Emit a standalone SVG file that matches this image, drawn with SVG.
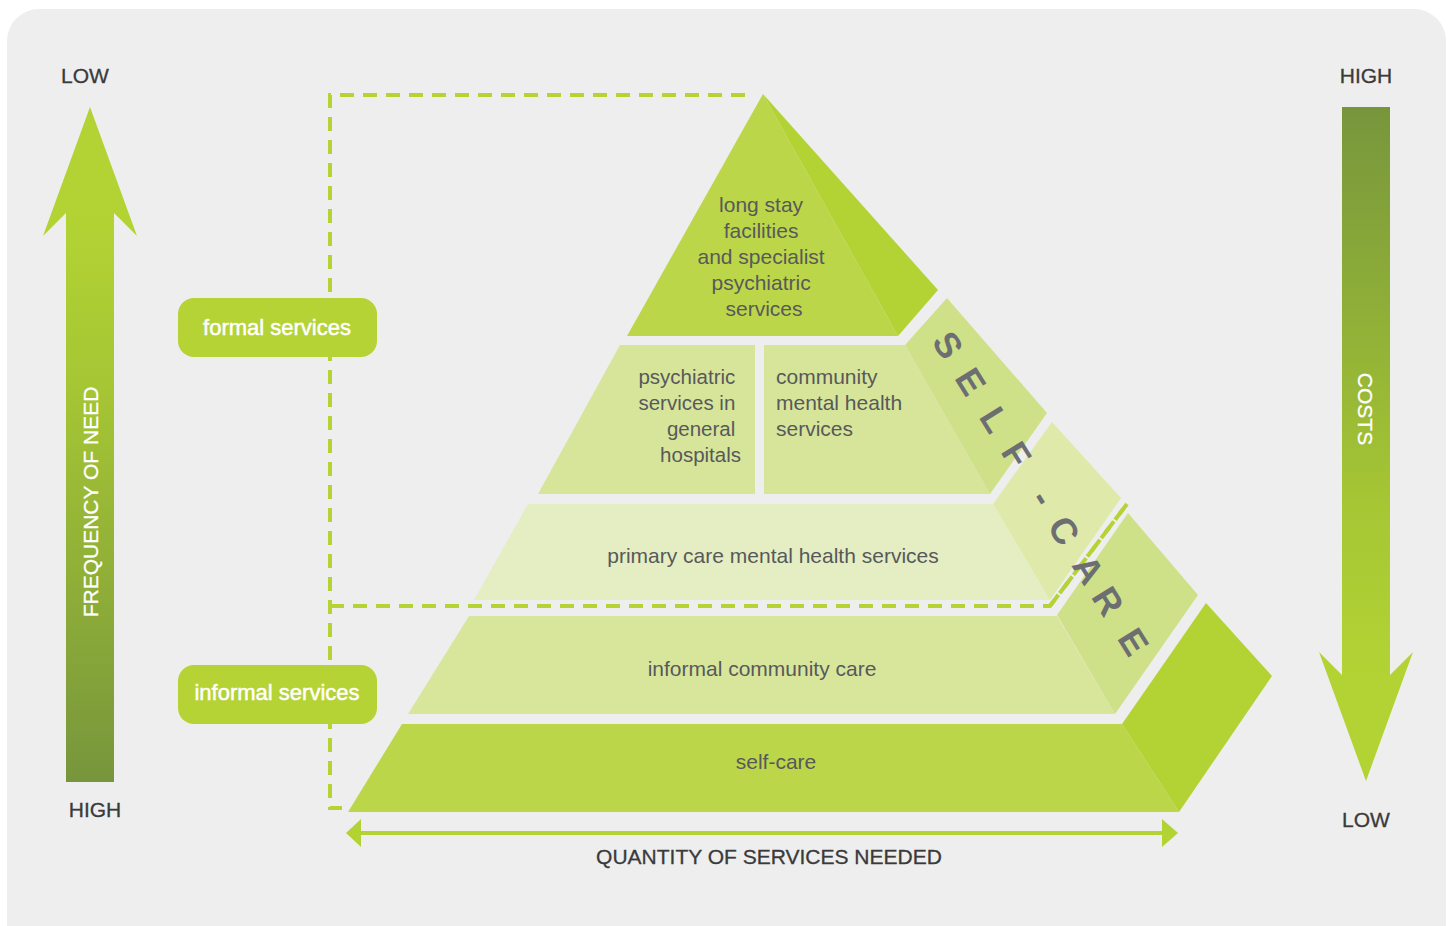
<svg xmlns="http://www.w3.org/2000/svg" width="1448" height="926" viewBox="0 0 1448 926">
<style>
.lbl{font-family:"Liberation Sans",Arial,sans-serif;font-size:21px;fill:#58595b}
.hdr{font-family:"Liberation Sans",Arial,sans-serif;font-size:21px;fill:#3a3a3a;stroke:#3a3a3a;stroke-width:0.3;text-anchor:middle}
.tag{font-family:"Liberation Sans",Arial,sans-serif;font-size:22px;fill:#ffffff;stroke:#ffffff;stroke-width:0.5;text-anchor:middle}
.vt{font-family:"Liberation Sans",Arial,sans-serif;font-size:21px;fill:#ffffff;stroke:#ffffff;stroke-width:0.3;text-anchor:middle}
.dash{fill:none;stroke:#b5d334;stroke-width:4;stroke-dasharray:14 9}
.box{fill:#b5d334}
.sc{font-family:"Liberation Sans",Arial,sans-serif;font-size:36px;font-weight:bold;fill:#6d6e71;text-anchor:middle}
</style>
<defs>
<linearGradient id="gUp" x1="0" y1="215" x2="0" y2="782" gradientUnits="userSpaceOnUse">
<stop offset="0" stop-color="#b3d334"/>
<stop offset="0.3" stop-color="#a6c634"/>
<stop offset="1" stop-color="#77963c"/>
</linearGradient>
<linearGradient id="gDown" x1="0" y1="107" x2="0" y2="675" gradientUnits="userSpaceOnUse">
<stop offset="0" stop-color="#77963c"/>
<stop offset="0.7" stop-color="#a6c634"/>
<stop offset="1" stop-color="#b3d334"/>
</linearGradient>
</defs>
<rect x="0" y="0" width="1448" height="926" fill="#ffffff"/>
<rect x="7" y="9" width="1439" height="950" rx="32" fill="#eeeeee"/>

<g id="connectors">
<path class="dash" d="M745 95 H330 V808 H342"/>
<path class="dash" d="M330 606 H1050 L1127 504"/>
<line x1="357" y1="833" x2="1166" y2="833" stroke="#b3d334" stroke-width="4"/>
<polygon points="346,833 361,819 361,847" fill="#b3d334"/>
<polygon points="1178,833 1162,819 1162,847" fill="#b3d334"/>
</g>

<g id="freq-arrow">
<rect x="66" y="212" width="48" height="570" fill="url(#gUp)"/>
<polygon points="90,107 137,236 114,213 66,213 43,236" fill="#b3d334"/>
<text transform="translate(98,502) rotate(-90)" class="vt">FREQUENCY OF NEED</text>
<text x="85" y="83" class="hdr">LOW</text>
<text x="95" y="817" class="hdr">HIGH</text>
</g>

<g id="cost-arrow">
<rect x="1342" y="107" width="48" height="570" fill="url(#gDown)"/>
<polygon points="1366,781 1319,652 1342,675 1390,675 1413,652" fill="#b3d334"/>
<text transform="translate(1358,409) rotate(90)" class="vt">COSTS</text>
<text x="1366" y="83" class="hdr">HIGH</text>
<text x="1366" y="827" class="hdr">LOW</text>
</g>

<g id="formal-services">
<rect x="178" y="298" width="199" height="59" rx="16" class="box"/>
<text x="277" y="335" class="tag">formal services</text>
</g>
<g id="informal-services">
<rect x="178" y="665" width="199" height="59" rx="16" class="box"/>
<text x="277" y="700" class="tag">informal services</text>
</g>

<g id="long-stay">
<polygon points="763,94 627,336 898,336" fill="#bcd64a"/>
<polygon points="763,94 938,290 898,336" fill="#b3d334"/>
<text class="lbl" text-anchor="middle">
<tspan x="764" y="212">long stay</tspan>
<tspan x="764" y="238">facilities</tspan>
<tspan x="764" y="264">and specialist</tspan>
<tspan x="764" y="290">psychiatric</tspan>
<tspan x="764" y="316">services</tspan>
</text>
</g>

<g id="psychiatric-general">
<polygon points="620,345 755,345 755,494 538,494" fill="#d6e59a"/>
<text class="lbl" text-anchor="end" style="font-size:20.5px">
<tspan x="741" y="384">psychiatric</tspan>
<tspan x="741" y="410">services in</tspan>
<tspan x="741" y="436">general</tspan>
<tspan x="741" y="462">hospitals</tspan>
</text>
</g>

<g id="community-mental-health">
<polygon points="764,345 905,345 990,494 764,494" fill="#d6e59a"/>
<text class="lbl">
<tspan x="776" y="384">community</tspan>
<tspan x="776" y="410">mental health</tspan>
<tspan x="776" y="436">services</tspan>
</text>
</g>

<g id="primary-care">
<polygon points="528,504 993,504 1050,600 474,600" fill="#e4eec2"/>
<text x="773" y="563" class="lbl" text-anchor="middle">primary care mental health services</text>
</g>

<g id="informal-community-care">
<polygon points="469,616 1057,616 1115,714 408,714" fill="#d7e69b"/>
<text x="762" y="676" class="lbl" text-anchor="middle">informal community care</text>
</g>

<g id="self-care">
<polygon points="402,724 1122,724 1179,812 348,812" fill="#bcd64a"/>
<polygon points="1122,724 1206,603 1272,676 1179,812" fill="#b3d334"/>
<text x="776" y="769" class="lbl" text-anchor="middle">self-care</text>
</g>

<g id="self-care-band">
<polygon points="905,345 947,298 1047,413 990,494" fill="#cfe188"/>
<polygon points="993,504 1052,422 1121,498 1050,600" fill="#dfeaaa"/>
<polygon points="1057,615 1128,513 1198,595 1115,714" fill="#cfe188"/>
<path class="dash" d="M1050 606 L1127 504"/>
<text transform="translate(948,345) rotate(58)" class="sc" dominant-baseline="central" x="0 43 88 129 180 219 265 302 350" y="0 0 0 0 0 0 0 0 0">SELF-CARE</text>
</g>

<g id="axis-label">
<text x="769" y="864" class="hdr">QUANTITY OF SERVICES NEEDED</text>
</g>
</svg>
